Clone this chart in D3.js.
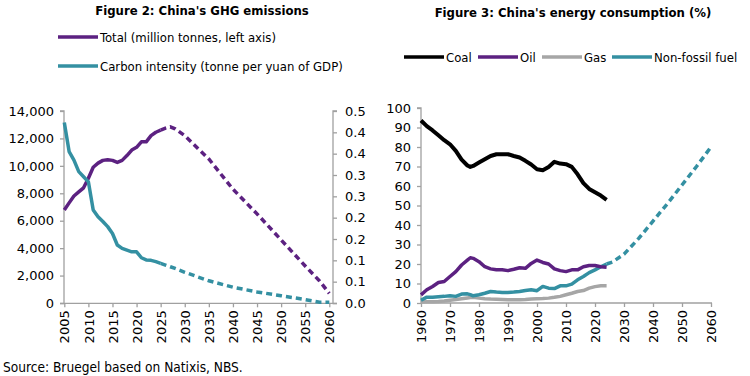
<!DOCTYPE html>
<html>
<head>
<meta charset="utf-8">
<script src="https://cdn.jsdelivr.net/npm/d3@7"></script>
<style>
  html, body { margin: 0; padding: 0; background: #fff; }
  svg { display: block; }
  .title { font-family: "DejaVu Sans Condensed", "DejaVu Sans", sans-serif; font-weight: bold; font-size: 13px; fill: #000; }
  .leg   { font-family: "DejaVu Sans Condensed", "DejaVu Sans", sans-serif; font-size: 13px; fill: #000; }
  .tick text { font-family: "DejaVu Sans", sans-serif; font-size: 13px; fill: #000; }
  .axis path, .axis line { stroke: #a0a0a0; stroke-width: 1.3; }
</style>
</head>
<body>
<div id="root"></div>
<script>
// ---------------------------------------------------------------- DATA
// Figure 2 : total GHG (million tonnes) and carbon intensity (tonne / yuan GDP)
const ghgYears     = [2005,2006,2007,2008,2009,2010,2011,2012,2013,2014,2015,2016,2017,2018,2019,2020,2021,2022,2023,2024,2025];
const ghgTotal     = [6780,7300,7800,8100,8400,9100,9900,10200,10400,10450,10400,10250,10400,10750,11150,11350,11750,11750,12200,12450,12600];
const ghgIntensity = [0.423,0.355,0.335,0.308,0.296,0.284,0.218,0.202,0.191,0.179,0.163,0.136,0.128,0.124,0.120,0.120,0.106,0.101,0.100,0.097,0.093];

const projYears     = [2025,2026,2027,2028,2030,2035,2040,2045,2050,2055,2058,2060];
const projTotal     = [12600,12750,12850,12700,12200,10500,8300,6500,4600,2700,1600,700];
const projIntensity = [0.093,0.089,0.085,0.081,0.072,0.052,0.037,0.026,0.017,0.008,0.002,0.002];

const ghgTicksX = [2005,2010,2015,2020,2025,2030,2035,2040,2045,2050,2055,2060];

// Figure 3 : energy consumption shares (%)
const enYears   = [1960,1962,1964,1966,1968,1970,1972,1974,1976,1977,1978,1980,1982,1984,1986,1988,1990,1992,1994,1996,1998,2000,2002,2004,2006,2008,2010,2012,2014,2016,2018,2020,2022,2024];
const coal      = [93.6,90.7,88.5,86.0,83.5,81.4,78.0,73.5,70.5,69.8,70.3,72.0,73.7,75.4,76.3,76.3,76.3,75.4,74.6,72.9,71.0,68.6,68.1,69.8,72.4,71.5,71.2,69.8,66.0,61.5,58.5,56.8,55.1,52.9];
const oil       = [4.2,6.8,8.5,10.5,11.0,13.6,16.1,19.5,22.0,23.2,22.9,21.2,18.6,17.5,17.0,17.0,16.6,17.3,18.1,17.8,20.3,22.0,20.8,20.0,17.5,16.6,16.1,17.0,17.0,18.6,19.2,19.2,18.6,18.3];
const gas       = [0.5,0.6,0.7,0.8,1.0,1.4,1.8,2.2,2.6,2.8,2.9,2.5,2.2,2.0,1.9,1.8,1.7,1.7,1.7,1.8,2.0,2.2,2.3,2.5,2.9,3.4,4.2,5.0,5.9,6.4,7.6,8.4,8.8,8.8];
const nonFossil = [1.4,3.0,3.0,3.2,3.4,3.7,3.4,4.6,4.7,4.3,3.7,4.2,5.0,5.9,5.6,5.4,5.4,5.6,5.9,6.4,6.8,6.3,8.5,7.6,7.4,8.8,8.8,9.7,11.9,13.6,15.6,17.0,18.6,20.0];

const nfProjYears = [2024,2026,2030,2035,2040,2045,2050,2055,2060];
const nfProj      = [20.0,21.0,25.0,33.0,42.0,51.0,60.5,70.0,80.0];

const enTicksX = [1960,1970,1980,1990,2000,2010,2020,2030,2040,2050,2060];
const enTicksY = [0,10,20,30,40,50,60,70,80,90,100];

const PURPLE = '#5c2181', TEAL = '#3490a2', GRAY = '#a6a6a6', BLACK = '#000';

// ---------------------------------------------------------------- SVG
const W = 750, H = 376;
const svg = d3.select('#root').append('svg')
  .attr('width', W).attr('height', H)
  .attr('viewBox', [0, 0, W, H]);

const pts = (xs, ys) => xs.map((x, i) => [x, ys[i]]);

// ================================================================ FIGURE 2
const x2  = d3.scaleLinear().domain([2005, 2060]).range([64.3, 329.3]);
const yL  = d3.scaleLinear().domain([0, 14000]).range([303, 111]);
const yR  = d3.scaleLinear().domain([0, 0.45]).range([303, 111]);

svg.append('g').attr('class', 'axis')
  .attr('transform', 'translate(64,0)')
  .call(d3.axisLeft(yL).tickValues(d3.range(0, 14001, 2000)).tickSize(4).tickPadding(6).tickFormat(d3.format(',')))
  .call(g => g.select('.domain').attr('d', 'M-4,111H0V303.5H-4'));

svg.append('g').attr('class', 'axis')
  .attr('transform', 'translate(333,0)')
  .call(d3.axisRight(yR).tickValues(d3.range(0, 0.4501, 0.05)).tickSize(4).tickPadding(8)
        .tickFormat(d => (Math.round(d * 10 + 1e-9) / 10).toFixed(1)))
  .call(g => g.select('.domain').attr('d', 'M4,111H0V303.5H4'));

svg.append('g').attr('class', 'axis')
  .attr('transform', 'translate(0,303.3)')
  .call(d3.axisBottom(x2).tickValues(ghgTicksX).tickSize(4).tickFormat(d3.format('d')))
  .call(g => g.select('.domain').attr('d', 'M64,0H333'))
  .call(g => g.selectAll('.tick text')
    .attr('transform', 'rotate(-90)').attr('text-anchor', 'end')
    .attr('x', -7).attr('y', 0).attr('dy', '0.36em'));

const line2L = d3.line().x(d => x2(d[0])).y(d => yL(d[1]));
const line2R = d3.line().x(d => x2(d[0])).y(d => yR(d[1]));

svg.append('path').attr('d', line2R(pts(projYears, projIntensity)))
  .attr('fill', 'none').attr('stroke', TEAL).attr('stroke-width', 3.5).attr('stroke-dasharray', '6,4');
svg.append('path').attr('d', line2L(pts(projYears, projTotal)))
  .attr('fill', 'none').attr('stroke', PURPLE).attr('stroke-width', 3.5).attr('stroke-dasharray', '6,4');
svg.append('path').attr('d', line2L(pts(ghgYears, ghgTotal)))
  .attr('fill', 'none').attr('stroke', PURPLE).attr('stroke-width', 3.5).attr('stroke-linejoin', 'round');
svg.append('path').attr('d', line2R(pts(ghgYears, ghgIntensity)))
  .attr('fill', 'none').attr('stroke', TEAL).attr('stroke-width', 3.5).attr('stroke-linejoin', 'round');

svg.append('text').attr('class', 'title').attr('x', 202).attr('y', 15)
  .attr('text-anchor', 'middle').text("Figure 2: China's GHG emissions");

const leg2 = [
  { name: 'Total (million tonnes, left axis)', color: PURPLE, y: 37 },
  { name: 'Carbon intensity (tonne per yuan of GDP)', color: TEAL, y: 66 }
];
leg2.forEach(d => {
  svg.append('line').attr('x1', 58).attr('x2', 98).attr('y1', d.y).attr('y2', d.y)
    .attr('stroke', d.color).attr('stroke-width', 3.5);
  svg.append('text').attr('class', 'leg').attr('x', 100).attr('y', d.y + 4.5).text(d.name);
});

// ================================================================ FIGURE 3
const x3 = d3.scaleLinear().domain([1960, 2060]).range([421, 711]);
const y3 = d3.scaleLinear().domain([0, 100]).range([303, 108]);

svg.append('g').attr('class', 'axis')
  .attr('transform', 'translate(421,0)')
  .call(d3.axisLeft(y3).tickValues(enTicksY).tickSize(4).tickPadding(6))
  .call(g => g.select('.domain').attr('d', 'M-4,108H0V303.5'));

svg.append('g').attr('class', 'axis')
  .attr('transform', 'translate(0,303)')
  .call(d3.axisBottom(x3).tickValues(enTicksX).tickSize(4).tickFormat(d3.format('d')))
  .call(g => g.select('.domain').attr('d', 'M421,0H712'))
  .call(g => g.selectAll('.tick text')
    .attr('transform', 'rotate(-90)').attr('text-anchor', 'end')
    .attr('x', -7).attr('y', 0).attr('dy', '0.36em'));

const line3 = d3.line().x(d => x3(d[0])).y(d => y3(d[1]));

svg.append('path').attr('d', line3(pts(nfProjYears, nfProj)))
  .attr('fill', 'none').attr('stroke', TEAL).attr('stroke-width', 3.5).attr('stroke-dasharray', '6,4');

[[gas, GRAY, 3.5], [nonFossil, TEAL, 3.5], [oil, PURPLE, 3.5], [coal, BLACK, 4]].forEach(([vals, c, w]) => {
  svg.append('path').attr('d', line3(pts(enYears, vals)))
    .attr('fill', 'none').attr('stroke', c).attr('stroke-width', w).attr('stroke-linejoin', 'round');
});

svg.append('text').attr('class', 'title').attr('x', 573).attr('y', 17)
  .attr('text-anchor', 'middle').text("Figure 3: China's energy consumption (%)");

const leg3 = [
  { name: 'Coal', color: BLACK, x: 404 },
  { name: 'Oil', color: PURPLE, x: 478 },
  { name: 'Gas', color: GRAY, x: 542 },
  { name: 'Non-fossil fuel', color: TEAL, x: 612 }
];
leg3.forEach(d => {
  svg.append('line').attr('x1', d.x).attr('x2', d.x + 40).attr('y1', 57).attr('y2', 57)
    .attr('stroke', d.color).attr('stroke-width', 3.5);
  svg.append('text').attr('class', 'leg').attr('x', d.x + 42).attr('y', 61.5).text(d.name);
});

// ---------------------------------------------------------------- SOURCE
svg.append('text').attr('class', 'leg').attr('x', 3).attr('y', 371.5)
  .style('font-size', '13.6px')
  .text('Source: Bruegel based on Natixis, NBS.');
</script>
</body>
</html>
